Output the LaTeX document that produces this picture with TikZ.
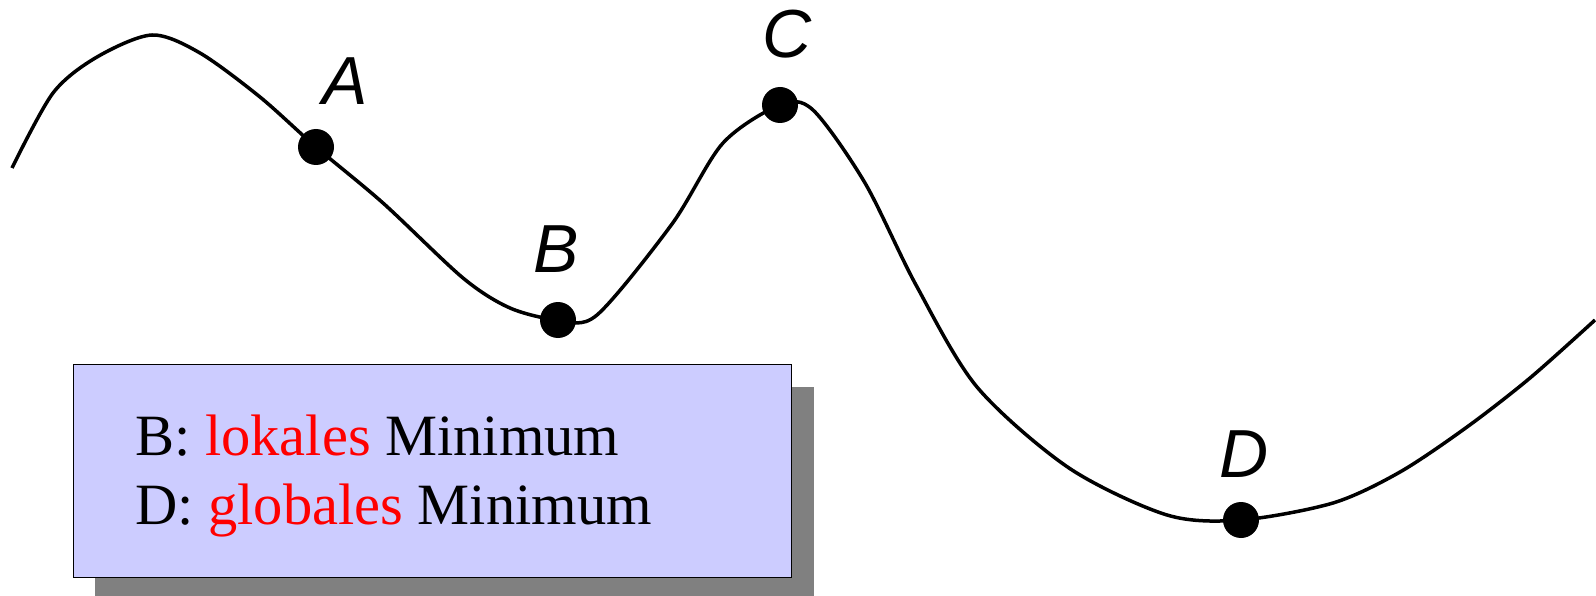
\documentclass[tikz,border=0pt]{standalone}
\usepackage{fontspec}
\setmainfont{Liberation Serif}
\newfontfamily\lblfont{Liberation Sans}
\begin{document}
\begin{tikzpicture}[x=1pt,y=-1pt,
  dot/.style={circle,fill=black,inner sep=0pt,minimum size=36pt},
  ptlabel/.style={inner sep=0pt,font=\lblfont\itshape\fontsize{68}{68}\selectfont},
  curve/.style={line width=3.5pt,black},
  legendbox/.style={draw=black,line width=1pt,fill=boxblue,inner sep=0pt,minimum width=718pt,minimum height=213pt,anchor=north west},
  shadowbox/.style={fill=shadowgray,inner sep=0pt,minimum width=719pt,minimum height=209pt,anchor=north west},
  legendtext/.style={inner sep=0pt,anchor=base west,font=\fontsize{58.5}{69}\selectfont}]
\definecolor{boxblue}{HTML}{CCCCFF}
\definecolor{shadowgray}{HTML}{808080}
\definecolor{minred}{HTML}{FF0000}
\useasboundingbox (0,0) rectangle (1596,596);
\draw[curve] plot[smooth,tension=0.5] coordinates {
 (12,168) (53,93) (97,57) (152,35) (200,53) (260,97) (316,147) (383,203)
 (463,278) (510,308) (558,320) (597,315) (672,224) (723,143) (780,105)
 (813,110) (865,183) (916,285) (977,387) (1069,468) (1167,515) (1241,520)
 (1333,503) (1400,472) (1467,427) (1530,378) (1595,320)};
\node[dot] (A) at (316,147) {};
\node[dot] (B) at (558,320) {};
\node[dot] (C) at (780,105) {};
\node[dot] (D) at (1241,520) {};
\node[ptlabel] (lA) at (345,81) {A};
\node[ptlabel] (lB) at (556,249) {B};
\node[ptlabel] (lC) at (787,34) {C};
\node[ptlabel] (lD) at (1244,454) {D};
\node[shadowbox] (shadow) at (95,387) {};
\node[legendbox] (legend) at (73,364) {};
\node[legendtext] (t1) at (135,455) {B: \textcolor{minred}{lokales} Minimum};
\node[legendtext] (t2) at (135,524) {D: \textcolor{minred}{globales} Minimum};
\end{tikzpicture}
\end{document}
